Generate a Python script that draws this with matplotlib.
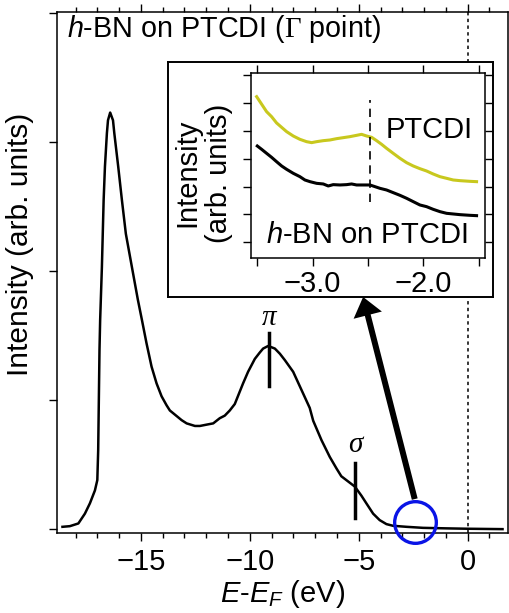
import numpy as np
import matplotlib.pyplot as plt
from matplotlib.patches import FancyArrowPatch
from matplotlib.ticker import MultipleLocator

plt.rcParams['font.family'] = 'Liberation Sans'
plt.rcParams['mathtext.fontset'] = 'custom'
plt.rcParams['mathtext.rm'] = 'Liberation Serif'
plt.rcParams['mathtext.it'] = 'Liberation Sans:italic'
plt.rcParams['axes.unicode_minus'] = True

# valence band spectrum at Gamma, h-BN on PTCDI
energy = [-18.6, -18.26, -17.87, -17.57, -17.34, -17.11, -17.0, -16.96, -16.93,
          -16.90, -16.87, -16.79, -16.71, -16.65, -16.56, -16.51, -16.41, -16.28,
          -16.22, -16.13, -16.04, -15.87, -15.69, -15.41, -15.14, -14.95, -14.74,
          -14.51, -14.28, -14.05, -13.82, -13.67, -13.13, -12.90, -12.52, -12.29,
          -11.99, -11.68, -11.38, -11.15, -10.92, -10.69, -10.31, -10.08, -9.77,
          -9.54, -9.39, -9.16, -9.00, -8.85, -8.62, -8.39, -8.01, -7.63,
          -7.25, -7.09, -6.71, -6.33, -6.02, -5.80, -5.49, -5.18, -4.88,
          -4.65, -4.34, -4.04, -3.73, -3.43, -2.81, -2.05, -0.98, 0.0, 1.6]
intensity = [0.018, 0.023, 0.044, 0.12, 0.20, 0.30, 0.38, 0.61, 1.0,
             1.39, 1.62, 2.03, 2.55, 2.81, 3.07, 3.17, 3.23, 3.17,
             3.07, 2.94, 2.81, 2.55, 2.29, 2.03, 1.78, 1.62, 1.44,
             1.26, 1.13, 1.03, 0.96, 0.92, 0.845, 0.82, 0.80, 0.80,
             0.81, 0.82, 0.86, 0.88, 0.92, 0.97, 1.13, 1.22, 1.32,
             1.37, 1.40, 1.42, 1.41, 1.40, 1.36, 1.31, 1.22, 1.08,
             0.94, 0.84, 0.69, 0.56, 0.47, 0.41, 0.37, 0.33, 0.26,
             0.20, 0.12, 0.07, 0.039, 0.026, 0.018, 0.01, 0.006, 0.003, 0.0]

# peak markers
pi_pos = -9.11
sigma_pos = -5.18

# zoomed region near the Fermi level
zoom_center = (-2.43, 0.057)

# inset: close-up of the region near E_F
inset_energy = [-3.506, -3.476, -3.446, -3.416, -3.371, -3.326, -3.280, -3.235,
                -3.175, -3.115, -3.055, -3.009, -2.964, -2.904, -2.844, -2.783,
                -2.723, -2.663, -2.603, -2.558, -2.512, -2.467, -2.422, -2.377,
                -2.332, -2.272, -2.211, -2.151, -2.091, -2.031, -1.971, -1.911,
                -1.850, -1.790, -1.730, -1.669, -1.579, -1.519]
ptcdi = [5.223, 5.044, 4.864, 4.685, 4.506, 4.281, 4.122, 3.968,
         3.812, 3.693, 3.609, 3.574, 3.609, 3.645, 3.669, 3.717,
         3.753, 3.789, 3.836, 3.872, 3.812, 3.765, 3.645, 3.514,
         3.370, 3.191, 3.012, 2.856, 2.737, 2.641, 2.558, 2.450,
         2.354, 2.295, 2.235, 2.211, 2.187, 2.175]
inset_energy_bn = [-3.500, -3.461, -3.416, -3.371, -3.326, -3.280, -3.235, -3.175,
                   -3.115, -3.070, -3.024, -2.964, -2.904, -2.859, -2.814, -2.753,
                   -2.693, -2.648, -2.603, -2.543, -2.482, -2.437, -2.392, -2.332,
                   -2.272, -2.211, -2.151, -2.091, -2.031, -1.971, -1.911, -1.850,
                   -1.790, -1.730, -1.669, -1.579, -1.519]
hbn_ptcdi = [3.454, 3.335, 3.191, 3.048, 2.892, 2.737, 2.617, 2.474,
             2.354, 2.235, 2.175, 2.115, 2.092, 2.020, 2.068, 2.056,
             2.068, 2.092, 2.056, 2.056, 2.056, 1.996, 1.936, 1.876,
             1.781, 1.685, 1.578, 1.458, 1.339, 1.279, 1.183, 1.100,
             1.040, 1.016, 0.992, 0.968, 0.956]
inset_marker = -2.48

fs = 21

fig = plt.figure(figsize=(5.09, 6.13), dpi=100)
ax = fig.add_axes([0.112, 0.1305, 0.886, 0.850])
ax.plot(energy, intensity, color='k', lw=1.8)
ax.axvline(0, color='k', lw=1.1, ls=(0, (2.2, 2.2)))

ax.plot([pi_pos, pi_pos], [1.11, 1.52], color='k', lw=2.5)
ax.text(pi_pos, 1.64, 'π', fontfamily='Liberation Serif', style='italic',
        fontsize=21, ha='center', va='center')
ax.plot([sigma_pos, sigma_pos], [0.083, 0.514], color='k', lw=2.5)
ax.text(sigma_pos, 0.65, 'σ', fontfamily='Liberation Serif', style='italic',
        fontsize=21, ha='center', va='center')

ax.plot(*zoom_center, 'o', ms=30, mfc='none', mec='#0a14e6', mew=2.4,
        clip_on=False, zorder=5)
arrow = FancyArrowPatch(posA=(-2.43, 0.233), posB=(-4.80, 1.80),
                        arrowstyle='simple,head_length=13.5,head_width=21,tail_width=4.3',
                        mutation_scale=1, color='k', lw=0,
                        shrinkA=0, shrinkB=0, zorder=4)
ax.add_patch(arrow)

ax.set_xlim(-18.85, 1.85)
ax.set_ylim(-0.03, 4.01)
ax.xaxis.set_major_locator(MultipleLocator(5))
ax.xaxis.set_minor_locator(MultipleLocator(1))
ax.set_yticks([0, 1, 2, 3, 4])
ax.set_yticklabels([])
ax.tick_params(axis='x', which='both', direction='out', top=True,
               labelsize=fs, pad=5)
ax.tick_params(which='major', length=5.5, width=1)
ax.tick_params(which='minor', length=3.5, width=1)
for s in ax.spines.values():
    s.set_linewidth(1.1)

ax.set_xlabel(r'$E$-$E_F$ (eV)', fontsize=fs, labelpad=2)
ax.text(-0.082, 0.553, 'Intensity (arb. units)', transform=ax.transAxes,
        rotation=90, ha='center', va='center', fontsize=21.5)
ax.text(0.022, 0.967, r'$h$-BN on PTCDI ($\Gamma$ point)', transform=ax.transAxes,
        ha='left', va='center', fontsize=20.7)

# white box holding the inset
frame = fig.add_axes([0.330, 0.5155, 0.6385, 0.3834])
frame.set_xticks([])
frame.set_yticks([])
for s in frame.spines.values():
    s.set_linewidth(1.4)

ax_in = fig.add_axes([0.4931, 0.5786, 0.4597, 0.3018])
ax_in.plot(inset_energy, ptcdi, color='#c8c81e', lw=2.2)
ax_in.plot(inset_energy_bn, hbn_ptcdi, color='k', lw=2.2)
ax_in.plot([inset_marker, inset_marker], [1.46, 5.10], color='k', lw=1.2,
           dashes=(5, 3.5))
ax_in.text(-1.55, 4.03, 'PTCDI', ha='right', va='center', fontsize=fs)
ax_in.text(-2.514, 0.26, r'$h$-BN on PTCDI', ha='center', va='center', fontsize=fs)
ax_in.text(-0.205, 0.46, 'Intensity\n(arb. units)', transform=ax_in.transAxes,
           rotation=90, ha='center', va='center', fontsize=fs, linespacing=1.15)

ax_in.set_xlim(-3.557, -1.443)
ax_in.set_ylim(-0.574, 6.06)
ax_in.set_xticks([-3.5, -3.0, -2.5, -2.0, -1.5])
ax_in.set_xticklabels(['', '\u22123.0', '', '\u22122.0', ''])
ax_in.set_yticks(range(7))
ax_in.set_yticklabels([])
ax_in.tick_params(direction='out', top=True, right=True, length=5.5, width=1,
                  labelsize=fs, pad=3)
for s in ax_in.spines.values():
    s.set_linewidth(1.1)

fig.savefig('out.png', dpi=100)
